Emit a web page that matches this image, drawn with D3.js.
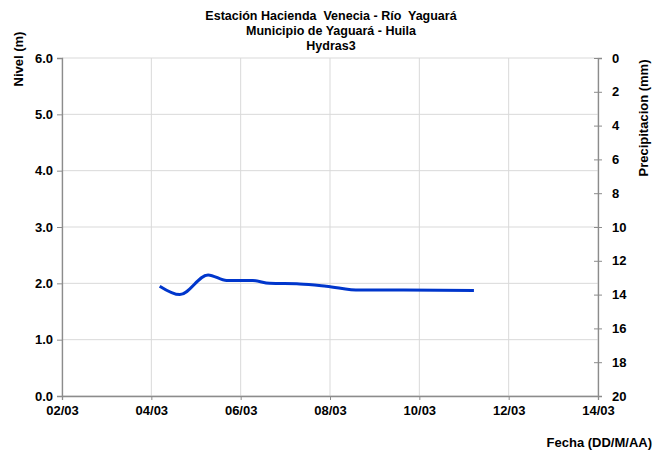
<!DOCTYPE html>
<html lang="es">
<head>
<meta charset="UTF-8">
<title>Hydras3 - Nivel</title>
<script src="https://cdn.jsdelivr.net/npm/d3@7"></script>
<style>
  body { margin: 0; background: #fff; }
  text { font-family: "Liberation Sans", Arial, sans-serif; font-weight: bold; fill: #000; }
</style>
</head>
<body>
<script>
// datos
const titulo = ["Estación Hacienda  Venecia - Río  Yaguará", "Municipio de Yaguará - Huila", "Hydras3"];
const fechas = ["2014-03-04T04:30", "2014-03-04T15:20", "2014-03-05T06:30", "2014-03-05T16:30",
  "2014-03-06T06:30", "2014-03-06T15:30", "2014-03-07T07:40", "2014-03-07T22:00",
  "2014-03-08T16:00", "2014-03-09T15:00", "2014-03-11T05:20"];
const nivel = [1.95, 1.80, 2.15, 2.05, 2.05, 2.00, 1.99, 1.95, 1.88, 1.88, 1.875];
const rangoFechas = ["2014-03-02T00:00", "2014-03-14T00:00"];
const nivelTicks = [0, 1, 2, 3, 4, 5, 6];
const precipTicks = [0, 2, 4, 6, 8, 10, 12, 14, 16, 18, 20];

const width = 662, height = 453;
const mLeft = 62, mRight = 598, mTop = 58, mBottom = 396;

const parse = d3.timeParse("%Y-%m-%dT%H:%M");
const data = fechas.map((f, i) => ({ fecha: parse(f), valor: nivel[i] }));

const svg = d3.select("body").append("svg")
  .attr("width", width)
  .attr("height", height);

const x = d3.scaleTime().domain(rangoFechas.map(parse)).range([mLeft, mRight]);
const y = d3.scaleLinear().domain([0, 6]).range([mBottom, mTop]);
const y2 = d3.scaleLinear().domain([0, 20]).range([mTop, mBottom]);

// una marca cada dos dias desde el inicio
const dateTicks = d3.timeDay.range(parse(rangoFechas[0]), d3.timeDay.offset(parse(rangoFechas[1]), 1), 2);

// grid
svg.append("g").selectAll("line").data(dateTicks).join("line")
  .attr("x1", d => x(d)).attr("x2", d => x(d))
  .attr("y1", mTop).attr("y2", mBottom)
  .attr("stroke", "#d9d9d9");
svg.append("g").selectAll("line").data(nivelTicks).join("line")
  .attr("x1", mLeft).attr("x2", mRight)
  .attr("y1", d => y(d)).attr("y2", d => y(d))
  .attr("stroke", "#d9d9d9");

// ejes
const ejeX = svg.append("g").attr("transform", `translate(0,${mBottom})`)
  .call(d3.axisBottom(x).tickValues(dateTicks).tickFormat(d3.timeFormat("%d/%m")).tickSize(4).tickPadding(6));
const ejeY = svg.append("g").attr("transform", `translate(${mLeft},0)`)
  .call(d3.axisLeft(y).tickValues(nivelTicks).tickFormat(d3.format(".1f")).tickSize(5).tickPadding(4));
const ejeY2 = svg.append("g").attr("transform", `translate(${mRight},0)`)
  .call(d3.axisRight(y2).tickValues(precipTicks).tickSize(4).tickPadding(10));
ejeY2.selectAll(".tick line").attr("x1", -4);

[ejeX, ejeY, ejeY2].forEach(g => {
  g.select(".domain").attr("stroke", "#8c8c8c").attr("stroke-width", 1.3);
  g.selectAll(".tick line").attr("stroke", "#8c8c8c");
  g.selectAll("text").attr("font-size", 13).attr("font-family", "Liberation Sans, Arial, sans-serif")
    .attr("font-weight", "bold").attr("fill", "#000");
});

// serie
svg.append("path")
  .datum(data)
  .attr("fill", "none")
  .attr("stroke", "#0036cc")
  .attr("stroke-width", 3)
  .attr("d", d3.line().x(d => x(d.fecha)).y(d => y(d.valor)).curve(d3.curveMonotoneX));

// titulos
svg.append("g").selectAll("text").data(titulo).join("text")
  .attr("x", 331).attr("y", (d, i) => 20 + i * 15)
  .attr("text-anchor", "middle").attr("font-size", 12.5)
  .style("white-space", "pre")
  .text(d => d);

svg.append("text")
  .attr("transform", "translate(23,59) rotate(-90)")
  .attr("text-anchor", "middle").attr("font-size", 13)
  .text("Nivel (m)");

svg.append("text")
  .attr("transform", "translate(648,118) rotate(-90)")
  .attr("text-anchor", "middle").attr("font-size", 13)
  .text("Precipitacion (mm)");

svg.append("text")
  .attr("x", 652).attr("y", 447)
  .attr("text-anchor", "end").attr("font-size", 13)
  .text("Fecha (DD/M/AA)");
</script>
</body>
</html>
